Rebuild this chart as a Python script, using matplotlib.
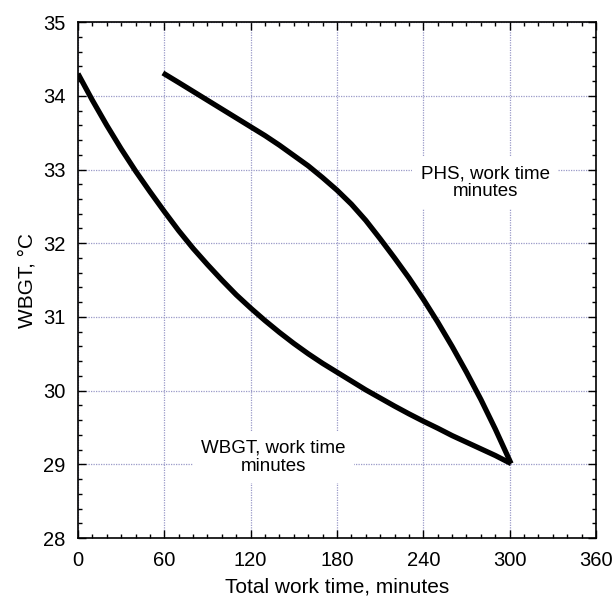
import matplotlib
matplotlib.use("Agg")
import matplotlib.pyplot as plt
from matplotlib.ticker import MultipleLocator

# Data
wbgt_x = [0, 10, 20, 30, 40, 50, 60, 70, 80, 90, 100, 110, 120, 130, 140, 150,
          160, 170, 180, 190, 200, 210, 220, 230, 240, 250, 260, 270, 280, 290, 301]
wbgt_y = [34.30, 33.94, 33.60, 33.28, 32.98, 32.70, 32.43, 32.17, 31.93, 31.71, 31.50,
          31.30, 31.12, 30.95, 30.79, 30.64, 30.50, 30.37, 30.25, 30.13, 30.01, 29.90,
          29.79, 29.685, 29.585, 29.49, 29.39, 29.30, 29.21, 29.12, 29.01]

phs_x = [59, 70, 80, 90, 100, 110, 120, 130, 140, 150, 160, 170, 180, 190, 200,
         210, 220, 230, 240, 250, 260, 270, 280, 290, 301]
phs_y = [34.31, 34.18, 34.06, 33.94, 33.82, 33.70, 33.58, 33.46, 33.33, 33.19, 33.05,
         32.89, 32.72, 32.53, 32.31, 32.06, 31.80, 31.53, 31.24, 30.93, 30.60, 30.25,
         29.88, 29.48, 29.01]

x_ticks = [0, 60, 120, 180, 240, 300, 360]
y_ticks = [28, 29, 30, 31, 32, 33, 34, 35]

plt.rcParams['font.family'] = ['Liberation Sans', 'DejaVu Sans']

fig = plt.figure(figsize=(6.16, 5.98), dpi=100)
ax = fig.add_axes([0.1266, 0.1003, 0.8409, 0.8627])

ax.plot(wbgt_x, wbgt_y, color='black', lw=3.8, solid_capstyle='butt', solid_joinstyle='round', zorder=3)
ax.plot(phs_x, phs_y, color='black', lw=3.8, solid_capstyle='butt', solid_joinstyle='round', zorder=3)

ax.set_xlim(0, 360)
ax.set_ylim(28, 35)
ax.set_xticks(x_ticks)
ax.set_yticks(y_ticks)
ax.xaxis.set_minor_locator(MultipleLocator(10))
ax.yaxis.set_minor_locator(MultipleLocator(0.2))
ax.tick_params(which='both', direction='in', top=True, right=True, width=1.0, color='black')
ax.tick_params(which='major', length=6, labelsize=14.5, pad=9)
ax.tick_params(which='minor', length=3)

ax.grid(True, which='major', linestyle=(0, (1, 1)), color='#9a9ac8', linewidth=0.9, zorder=0)
ax.set_axisbelow(True)
for s in ax.spines.values():
    s.set_linewidth(1.2)

ax.set_xlabel('Total work time, minutes', fontsize=15, labelpad=6)
ax.set_ylabel('WBGT, °C', fontsize=15, labelpad=5)

bbox = dict(facecolor='white', edgecolor='none', pad=6)
ax.text(283, 32.82, 'PHS, work time\nminutes', ha='center', va='center', fontsize=13.5,
        linespacing=1.1, bbox=bbox, zorder=2)
ax.text(136, 29.1, 'WBGT, work time\nminutes', ha='center', va='center', fontsize=13.5,
        linespacing=1.1, bbox=bbox, zorder=2)

fig.savefig('out.png', dpi=100)
